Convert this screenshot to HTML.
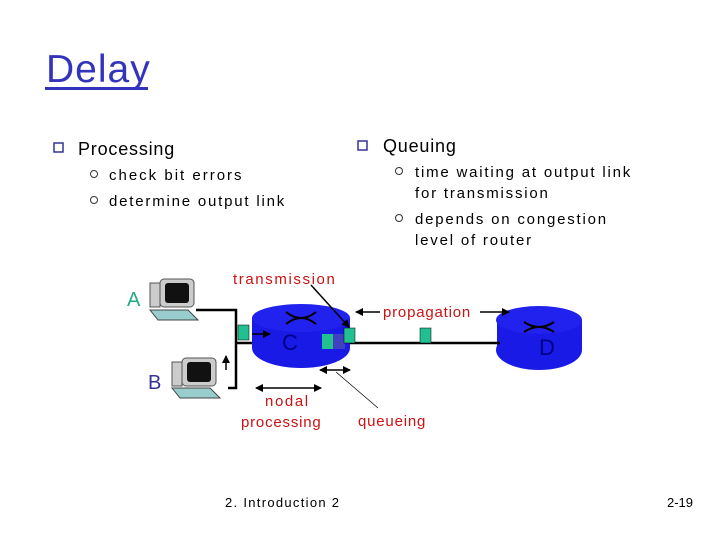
<!DOCTYPE html>
<html><head><style>
body{margin:0;background:#fff;}
svg{display:block;}
text{font-family:"Liberation Sans",sans-serif;}
</style></head><body>
<svg width="720" height="540" viewBox="0 0 720 540" xmlns="http://www.w3.org/2000/svg">
<defs>
<marker id="ah" markerWidth="8" markerHeight="8" refX="7" refY="4" orient="auto" markerUnits="userSpaceOnUse"><path d="M0,0 L8,4 L0,8 z" fill="#000"/></marker>
</defs>
<text x="46" y="82" font-size="39" fill="#3333bb" letter-spacing="1">Delay</text>
<rect x="45" y="87" width="103" height="3" fill="#3333bb"/>
<!-- bullets -->
<rect x="54" y="143" width="9" height="9" fill="none" stroke="#333399" stroke-width="1.5"/>
<text x="78" y="155" font-size="18" fill="#000" letter-spacing="0.8">Processing</text>
<circle cx="94" cy="174" r="3.5" fill="none" stroke="#333" stroke-width="1"/>
<text x="109" y="180" font-size="15" fill="#000" letter-spacing="2">check bit errors</text>
<circle cx="94" cy="200" r="3.5" fill="none" stroke="#333" stroke-width="1"/>
<text x="109" y="206" font-size="15" fill="#000" letter-spacing="1.8">determine output link</text>
<rect x="358" y="141" width="9" height="9" fill="none" stroke="#333399" stroke-width="1.5"/>
<text x="383" y="152" font-size="18" fill="#000" letter-spacing="0.8">Queuing</text>
<circle cx="399" cy="171" r="3.5" fill="none" stroke="#333" stroke-width="1"/>
<text x="415" y="177" font-size="15" fill="#000" letter-spacing="1.8">time waiting at output link</text>
<text x="415" y="198" font-size="15" fill="#000" letter-spacing="1.8">for transmission</text>
<circle cx="399" cy="218" r="3.5" fill="none" stroke="#333" stroke-width="1"/>
<text x="415" y="224" font-size="15" fill="#000" letter-spacing="1.8">depends on congestion</text>
<text x="415" y="245" font-size="15" fill="#000" letter-spacing="1.8">level of router</text>
<!-- wires -->
<path d="M196,310 H236 V388 H228" fill="none" stroke="#000" stroke-width="2.5"/>
<line x1="236" y1="343" x2="256" y2="343" stroke="#000" stroke-width="2.5"/>
<!-- router C -->
<rect x="252" y="318" width="98" height="30" fill="#1a1ae6"/>
<ellipse cx="301" cy="348" rx="49" ry="20" fill="#1a1ae6"/>
<ellipse cx="301" cy="318" rx="49" ry="14" fill="#2222ee"/>
<path d="M286,312 Q301,324 316,312 M286,324 Q301,312 316,324" stroke="#000" stroke-width="2" fill="none"/>
<text x="282" y="350" font-size="22" fill="#000088" font-family="Liberation Serif">C</text>
<!-- router D -->
<rect x="497" y="320" width="85" height="30" fill="#1a1ae6"/>
<ellipse cx="539" cy="350" rx="43" ry="20" fill="#1a1ae6"/>
<ellipse cx="539" cy="320" rx="43" ry="14" fill="#2222ee"/>
<path d="M524,322 Q539,332 554,322 M524,332 Q539,322 554,332" stroke="#000" stroke-width="2" fill="none"/>
<text x="539" y="355" font-size="22" fill="#000088" font-family="Liberation Serif">D</text>
<line x1="350" y1="343" x2="500" y2="343" stroke="#000" stroke-width="2.5"/>
<!-- packets -->
<rect x="238" y="325" width="11" height="15" fill="#20c090" stroke="#000" stroke-width="0.5"/>
<rect x="322" y="334" width="11" height="15" fill="#20c090"/>
<rect x="333" y="334" width="12" height="15" fill="#4040c0"/>
<rect x="344" y="328" width="11" height="15" fill="#20c090" stroke="#000" stroke-width="0.5"/>
<rect x="420" y="328" width="11" height="15" fill="#20c090" stroke="#000" stroke-width="0.5"/>
<!-- computers -->
<g>
<rect x="150" y="283" width="10" height="24" fill="#ccc" stroke="#555"/>
<rect x="160" y="279" width="34" height="28" rx="4" fill="#ccc" stroke="#555"/>
<rect x="165" y="283" width="24" height="20" rx="3" fill="#111"/>
<path d="M150,310 L188,310 L198,320 L158,320 z" fill="#9cc" stroke="#444"/>
</g>
<g>
<rect x="172" y="362" width="10" height="24" fill="#ccc" stroke="#555"/>
<rect x="182" y="358" width="34" height="28" rx="4" fill="#ccc" stroke="#555"/>
<rect x="187" y="362" width="24" height="20" rx="3" fill="#111"/>
<path d="M172,388 L210,388 L220,398 L180,398 z" fill="#9cc" stroke="#444"/>
</g>
<text x="127" y="306" font-size="20" fill="#22aa88">A</text>
<text x="148" y="389" font-size="20" fill="#333399">B</text>
<!-- arrows -->
<line x1="252" y1="334" x2="270" y2="334" stroke="#000" stroke-width="1.5" marker-end="url(#ah)"/>
<line x1="226" y1="370" x2="226" y2="356" stroke="#000" stroke-width="1.5" marker-end="url(#ah)"/>
<line x1="311" y1="285" x2="349" y2="327" stroke="#000" stroke-width="1.5" marker-end="url(#ah)"/>
<line x1="380" y1="312" x2="356" y2="312" stroke="#000" stroke-width="1.5" marker-end="url(#ah)"/>
<line x1="480" y1="312" x2="509" y2="312" stroke="#000" stroke-width="1.5" marker-end="url(#ah)"/>
<line x1="270" y1="388" x2="256" y2="388" stroke="#000" stroke-width="1.5" marker-end="url(#ah)"/>
<line x1="270" y1="388" x2="321" y2="388" stroke="#000" stroke-width="1.5" marker-end="url(#ah)"/>
<line x1="335" y1="370" x2="320" y2="370" stroke="#000" stroke-width="1.5" marker-end="url(#ah)"/>
<line x1="335" y1="370" x2="350" y2="370" stroke="#000" stroke-width="1.5" marker-end="url(#ah)"/>
<line x1="336" y1="372" x2="378" y2="408" stroke="#000" stroke-width="0.7"/>
<!-- labels -->
<g font-size="15" fill="#cc1111" letter-spacing="1.6">
<text x="233" y="284">transmission</text>
<text x="383" y="317" letter-spacing="0.8">propagation</text>
<text x="265" y="406">nodal</text>
<text x="241" y="427" letter-spacing="0.8">processing</text>
<text x="358" y="426" letter-spacing="0.8">queueing</text>
</g>
<text x="225" y="507" font-size="13" fill="#000" letter-spacing="1.3">2. Introduction 2</text>
<text x="667" y="507" font-size="13" fill="#000">2-19</text>
</svg>
</body></html>
